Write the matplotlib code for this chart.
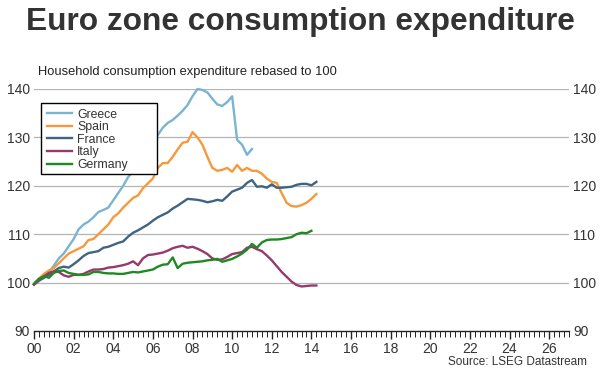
import numpy as np
import matplotlib
matplotlib.use("Agg")
import matplotlib.pyplot as plt
from matplotlib.patches import Rectangle
from matplotlib.ticker import MultipleLocator, FixedLocator

plt.rcParams['font.family'] = ['Liberation Sans', 'DejaVu Sans']

title = "Euro zone consumption expenditure"
subtitle = "Household consumption expenditure rebased to 100"
source = "Source: LSEG Datastream"

xtick_labels = ["00", "02", "04", "06", "08", "10", "12", "14", "16", "18", "20", "22", "24", "26"]
yticks = [90, 100, 110, 120, 130, 140]

greece = [99.6, 100.3, 101.0, 102.0, 103.5, 105.0, 106.0, 107.5, 109.0, 111.0, 112.0, 112.6,
          113.5, 114.6, 115.0, 115.5, 117.0, 118.5, 120.0, 121.8, 123.0, 124.5, 126.0, 127.5,
          129.0, 130.5, 132.0, 133.0, 133.6, 134.5, 135.5, 136.7, 138.5, 140.0, 139.8, 139.3,
          138.0, 136.8, 136.5, 137.3, 138.5, 129.5, 128.5, 126.4, 127.6]
spain = [99.6, 100.8, 101.8, 102.5, 103.0, 104.0, 105.0, 106.0, 106.5, 107.0, 107.5, 108.8,
         109.0, 110.0, 111.0, 112.0, 113.5, 114.3, 115.5, 116.5, 117.5, 118.0, 119.5, 120.5,
         121.5, 123.7, 124.7, 124.7, 126.0, 127.5, 128.9, 129.1, 131.1, 130.0, 128.5, 126.0,
         123.7, 123.1, 123.3, 123.7, 122.9, 124.3, 123.1, 123.7, 123.1, 123.1, 122.5, 121.5,
         120.8, 120.6, 118.5, 116.5, 115.8, 115.7, 116.0, 116.5, 117.3, 118.3]
france = [99.6, 100.5, 101.0, 101.6, 102.3, 103.0, 103.3, 103.1, 103.8, 104.6, 105.5, 106.1,
          106.3, 106.5, 107.2, 107.4, 107.8, 108.2, 108.5, 109.5, 110.3, 110.8, 111.4, 112.0,
          112.8, 113.5, 114.0, 114.5, 115.3, 115.9, 116.6, 117.3, 117.2, 117.1, 116.9, 116.6,
          116.8, 117.1, 116.9, 117.8, 118.8, 119.2, 119.6, 120.6, 121.2, 119.8, 119.9, 119.6,
          120.3, 119.6, 119.6, 119.7, 119.8, 120.2, 120.4, 120.4, 120.1, 120.8]
italy = [99.6, 100.5, 101.3, 102.0, 102.3, 102.2, 101.5, 101.2, 101.6, 101.6, 101.8, 102.3,
         102.7, 102.7, 102.8, 103.1, 103.2, 103.4, 103.6, 103.9, 104.4, 103.6, 105.0, 105.7,
         105.8, 106.0, 106.2, 106.6, 107.1, 107.4, 107.6, 107.2, 107.4, 107.0, 106.5, 105.9,
         105.0, 104.7, 104.8, 105.3, 105.9, 106.1, 106.3, 107.2, 107.4, 106.9, 106.5, 105.6,
         104.6, 103.4, 102.2, 101.2, 100.2, 99.5, 99.2, 99.3, 99.4, 99.4]
germany = [99.8, 100.8, 101.3, 101.0, 102.0, 102.4, 102.5, 102.0, 101.8, 101.6, 101.6, 101.7,
           102.2, 102.2, 102.0, 101.9, 101.9, 101.8, 101.8, 102.0, 102.2, 102.1, 102.3, 102.5,
           102.7, 103.3, 103.7, 103.8, 105.2, 103.0, 103.9, 104.1, 104.2, 104.3, 104.4, 104.6,
           104.7, 104.9, 104.3, 104.6, 104.9, 105.4, 106.0, 106.8, 108.0, 107.2, 108.3, 108.8,
           108.9, 108.9, 109.0, 109.2, 109.4, 110.0, 110.3, 110.2, 110.7]

series = [("Greece", greece, "#7ab4d0"),
          ("Spain", spain, "#f59a3c"),
          ("France", france, "#3f6483"),
          ("Italy", italy, "#963a6c"),
          ("Germany", germany, "#1f8a22")]

W, H = 600, 376
fig = plt.figure(figsize=(W/100, H/100), dpi=100)
ax = fig.add_axes([34/W, 45/H, 535/W, 242/H])

for name, vals, col in series:
    x = np.arange(len(vals)) * 0.25
    ax.plot(x, vals, color=col, lw=1.7, label=name, clip_on=False,
            solid_joinstyle='round', zorder=2)

ax.set_xlim(0, 27)
ax.set_ylim(90, 140)

for y in yticks[1:]:
    ax.axhline(y, color="#b4b4b4", lw=0.9, zorder=0)

for s in ["top", "right", "left"]:
    ax.spines[s].set_visible(False)
ax.spines["bottom"].set_color("#222222")
ax.spines["bottom"].set_linewidth(1.0)

ax.xaxis.set_major_locator(FixedLocator(np.arange(0, 27, 2)))
ax.set_xticklabels(xtick_labels)
ax.xaxis.set_minor_locator(MultipleLocator(0.25))
ax.tick_params(axis="x", which="major", length=6, width=1, color="#222222",
               labelsize=10, labelcolor="#333333", pad=2)
ax.tick_params(axis="x", which="minor", length=4, width=0.7, color="#222222")

ax.set_yticks(yticks)
ax.tick_params(axis="y", which="both", length=0, labelsize=10, labelcolor="#333333",
               left=True, right=True, labelleft=True, labelright=True, pad=3)

# legend box (drawn separately so it can be wider than its contents, as in the original)
box = Rectangle((41/W, 1 - 174/H), 116/W, 71/H, transform=fig.transFigure,
                facecolor="white", edgecolor="black", lw=1.0, zorder=4, clip_on=False)
ax.add_patch(box)

leg = ax.legend(loc="upper left", bbox_to_anchor=(41/W, 1 - 103/H),
                bbox_transform=fig.transFigure, frameon=False, fontsize=8.8,
                handlelength=2.05, borderpad=0.45, labelspacing=0.05,
                handletextpad=0.45, borderaxespad=0)
leg.set_zorder(5)
for t in leg.get_texts():
    t.set_color("#333333")

fig.text(0.5, 1 - 22/H, title, ha="center", va="center", fontsize=22.8,
         fontweight="bold", color="#333333")
fig.text(38/W, 1 - 72/H, subtitle, ha="left", va="center", fontsize=9.25, color="#222222")
fig.text(587/W, 1 - 362/H, source, ha="right", va="center", fontsize=8.5, color="#333333")

fig.savefig("out.png", dpi=100)
